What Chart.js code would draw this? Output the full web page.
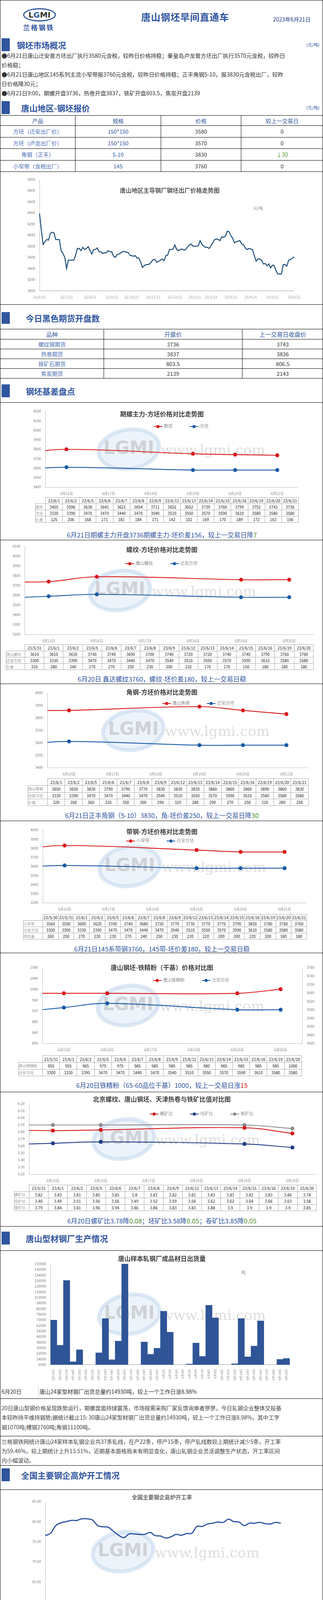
<!DOCTYPE html>
<html><head><meta charset="utf-8">
<script src="https://cdn.jsdelivr.net/npm/chart.js@4.4.0/dist/chart.umd.min.js"></script>
<style>
body{margin:0;background:#fff;font-family:"Noto Sans CJK SC","Noto Sans",sans-serif;}
#page{position:relative;width:824px;height:5068px;border:1px solid #000;overflow:hidden;}
table.dt{border-collapse:collapse;font-size:10px;color:#222;table-layout:fixed;}
table.dt td{border:1px solid #a6a6a6;text-align:center;padding:0;white-space:nowrap;overflow:hidden;}
table.dt td.lab{color:#999;text-align:left;font-size:9.5px;}
table.qt{border-collapse:collapse;font-size:14px;table-layout:fixed;}
table.qt td{border:1px solid #000;text-align:center;padding:0;}
.lg{display:inline-block;margin:0 22px;font-size:11px;color:#888;white-space:nowrap}
.lg i{display:inline-block;width:22px;height:2px;vertical-align:middle;margin-right:4px;position:relative}
.lg i b{position:absolute;left:7px;top:-3px;width:8px;height:8px;border-radius:50%}
</style></head>
<body><div id="page"></div>
<script>
// ---- data ----
var quoteRows = [['方坯（迁安出厂价）','150*150','3580','0'],['方坯（卢龙出厂价）','150*150','3570','0'],['角钢（正丰）','5-10','3830','↓30'],['小窄带（含税出厂）','145','3760','0']];
var futRows = [['螺纹钢期货','3736','3743'],['热卷期货','3837','3836'],['铁矿石期货','803.5','806.5'],['焦炭期货','2139','2143']];

var trendValues = [4390,4100,3830,3880,3920,3910,4030,4050,4040,3920,3920,3920,3720,3670,3600,3400,3550,3550,3550,3550,3640,3760,3760,3720,3780,3740,3760,3790,3720,3660,3740,3740,3770,3700,3700,3670,3680,3680,3720,3700,3700,3620,3600,3650,3660,3680,3700,3710,3690,3690,3640,3630,3620,3630,3590,3590,3520,3420,3450,3470,3470,3480,3520,3560,3560,3510,3530,3550,3570,3540,3630,3640,3740,3740,3750,3820,3740,3720,3740,3750,3730,3740,3790,3820,3840,3800,3800,3800,3810,3900,3830,3800,3780,3780,3760,3810,3860,3920,3930,3920,3900,3970,3960,3980,4070,4060,3990,3940,3860,3880,3890,3900,3840,3830,3770,3740,3760,3750,3740,3630,3530,3570,3570,3550,3480,3490,3450,3480,3410,3460,3450,3360,3300,3300,3300,3470,3470,3440,3550,3560,3580,3610];
var trendTicks = {0:'22/6/21',15:'22/7/21',28:'22/8/21',40:'22/9/21',51:'22/10/21',63:'22/11/21',75:'22/12/21',86:'23/1/21',95:'23/2/21',106:'23/3/21',117:'23/4/21',129:'23/5/21',141:'23/6/21'};

var datesA = ['23/6/1','23/6/2','23/6/5','23/6/6','23/6/7','23/6/8','23/6/9','23/6/12','23/6/13','23/6/14','23/6/15','23/6/16','23/6/19','23/6/20','23/6/21'];
var datesB = ['23/5/31','23/6/1','23/6/2','23/6/5','23/6/6','23/6/7','23/6/8','23/6/9','23/6/12','23/6/13','23/6/14','23/6/15','23/6/16','23/6/19','23/6/20'];
var datesC = ['23/5/30','23/5/31','23/6/1','23/6/2','23/6/5','23/6/6','23/6/7','23/6/8','23/6/9','23/6/12','23/6/13','23/6/14','23/6/15','23/6/16','23/6/19','23/6/20','23/6/21'];
var axis1621 = ['6月16日','6月17日','6月18日','6月19日','6月20日','6月21日'];
var axis1520 = ['6月15日','6月16日','6月17日','6月18日','6月19日','6月20日'];
var pos1621 = [-1,0,3,4,5];   // 6/15,6/16,6/19,6/20,6/21
var pos1520 = [-1,0,1,4,5];   // 6/14,6/15,6/16,6/19,6/20

var qhFut = [3455,3596,3638,3641,3621,3654,3711,3652,3652,3739,3760,3799,3752,3743,3736];
var qhBil = [3330,3390,3470,3470,3440,3470,3540,3510,3550,3570,3590,3610,3580,3580,3580];
var qhDiff = [125,206,168,171,181,184,171,142,102,169,170,189,172,163,156];

var lwRebar = [3610,3610,3630,3740,3740,3690,3700,3740,3720,3720,3740,3740,3790,3760,3760];
var lwBil = [3300,3330,3390,3470,3470,3440,3470,3540,3510,3550,3570,3590,3610,3580,3580];
var lwDiff = [310,280,240,270,270,250,230,200,210,170,170,150,180,180,180];

var jgAngle = [3650,3650,3830,3790,3790,3770,3830,3830,3830,3860,3860,3860,3890,3860,3830];
var jgBil = [3330,3390,3470,3470,3440,3470,3540,3510,3550,3570,3590,3610,3580,3580,3580];
var jgDiff = [320,260,360,320,350,300,290,320,280,290,270,250,310,280,250];

var dgStrip = [3560,3550,3600,3620,3700,3740,3680,3720,3770,3730,3770,3770,3790,3830,3780,3760,3760];
var dgBil = [3300,3300,3330,3390,3470,3470,3440,3470,3540,3510,3550,3570,3590,3610,3580,3580,3580];
var dgDiff = [260,250,270,230,230,270,240,250,230,220,220,200,200,220,200,180,180];

var tjfOre = [955,955,965,975,975,985,985,985,985,980,985,985,985,985,1000];
var tjfBil = [3300,3330,3390,3470,3470,3440,3470,3540,3510,3550,3570,3590,3610,3580,3580];

var rRebar = [3.82,3.83,3.81,3.85,3.85,3.80,3.81,3.82,3.81,3.83,3.83,3.82,3.83,3.86,3.78];
var rBil = [3.46,3.49,3.51,3.56,3.56,3.49,3.52,3.59,3.56,3.62,3.62,3.64,3.66,3.63,3.58];
var rCoil = [3.79,3.84,3.81,3.96,3.94,3.86,3.86,3.83,3.83,3.88,3.90,3.90,3.90,3.90,3.85];

var shipDays = ['5月15日','5月16日','5月17日','5月18日','5月19日','5月20日','5月21日','5月22日','5月23日','5月24日','5月25日','5月26日','5月27日','5月28日','5月29日','5月30日','5月31日','6月1日','6月2日','6月3日','6月4日','6月5日','6月6日','6月7日','6月8日','6月9日','6月10日','6月11日','6月12日','6月13日','6月14日','6月15日','6月16日','6月17日','6月18日','6月19日','6月20日'];
var shipValues = [69800,33800,126400,10200,27400,null,null,23100,72000,13200,39800,150000,null,null,38500,20900,29600,82500,52400,null,null,7000,37000,17900,90900,73000,null,null,7500,72000,17400,32600,68600,null,null,13700,14930];

var rateValues = [76.5,77.1,79.0,79.7,80.0,80.3,80.3,80.7,80.7,80.4,79.0,78.7,78.6,77.6,76.6,76.0,76.9,76.9,76.8,76.8,77.3,76.5,76.4,75.9,76.2,76.8,76.6,77.0,77.1,78.8,78.8,79.4,79.6,79.9,79.8,80.6,80.0,79.9,79.0,79.6,79.6,79.8,79.5,79.4,79.8,79.6];
var rateTicks = {0:'2022/08/16',5:'2022/09/16',10:'2022/10/16',15:'2022/11/16',19:'2022/12/16',23:'2023/01/16',28:'2023/02/16',32:'2023/03/16',37:'2023/04/16',41:'2023/05/16',45:'2023/06/16'};

var pieLabels = ['型钢日需求','145带钢日需求','螺纹日需求'];
var pieValues = [4.77,0.4,0];

var costTickLabels = ['1月25日','2月1日','2月8日','2月15日','2月22日','3月1日','3月8日','3月15日','3月22日','3月29日','4月5日','4月12日','4月19日','4月26日','5月3日','5月10日','5月17日','5月24日','5月31日','6月7日','6月14日','6月21日'];
var billetDay = [0,4,6,7,9,12,14,16,19,21,23,26,27,29,31,34,35,37,39,42,44,46,48,50,52,55,57,59,62,65,67,70,72,75,78,80,83,85,88,89,91,93,96,100,104,106,107,110,113,115,118,119,123,126,128,131,133,134,135,138,140,142,145,147];
var billetPrice = [3869,3893,3903,3813,3813,3769,3769,3793,3753,3803,3873,3873,3933,3953,3913,3903,3933,3992,3942,4022,4032,4042,4072,3992,3972,3913,3853,3863,3863,3903,3853,3803,3803,3753,3733,3743,3753,3723,3623,3533,3563,3493,3483,3473,3487,3463,3403,3443,3463,3403,3363,3303,3303,3303,3383,3463,3473,3443,3543,3513,3563,3613,3583,3583];
var costDay = [0,14,21,28,49,56,63,77,84,91,105,112,119,126,133,140,146,147];
var costPrice = [3833,3849,3883,3907,3982,3958,3929,3873,3819,3769,3543,3527,3447,3413,3384,3376,3374,3443];

// ---- layout helpers ----
var page = document.getElementById('page');
var BLUE = '#2F55A0', RED = '#D7191C', LBLUE = '#1A5BA6';
function put(tag, css, html){ var e=document.createElement(tag); e.style.cssText='position:absolute;'+css; if(html!=null) e.innerHTML=html; page.appendChild(e); return e; }
function hline(y){ put('div','left:0;top:'+y+'px;width:826px;height:0;border-top:1px solid #000'); }
function section(y, h, title, titleX, unit){
  put('div','left:3px;top:'+y+'px;width:21px;height:'+h+'px;background:'+BLUE);
  put('div','left:'+titleX+'px;top:'+(y+h/2-16)+'px;font-size:21px;font-weight:bold;color:'+BLUE+';line-height:32px;white-space:nowrap',title);
  if(unit) put('div','right:8px;top:'+(y+h/2-9)+'px;font-size:11px;color:'+BLUE,unit);
}
function textLines(x, y0, lh, lines, size, color){
  lines.forEach(function(t,i){ put('div','left:'+x+'px;top:'+(y0+i*lh-lh/2)+'px;line-height:'+lh+'px;font-size:'+size+'px;color:'+(color||'#333')+';white-space:nowrap',t); });
}
function canvasAt(x,y,w,h){ var c=put('canvas','left:'+x+'px;top:'+y+'px;width:'+w+'px;height:'+h+'px'); c.width=w; c.height=h; return c; }
function dataTable(x,y,labW,cellW,h,dates,rows){
  var html='<tr><td style="border:none;border-bottom:1px solid #a6a6a6;border-right:1px solid #a6a6a6"></td>'+dates.map(function(d){return '<td>'+d+'</td>';}).join('')+'</tr>';
  rows.forEach(function(r){ html+='<tr><td class="lab">'+r[0]+'</td>'+r[1].map(function(v){return '<td>'+v+'</td>';}).join('')+'</tr>'; });
  var t=put('table','left:'+x+'px;top:'+y+'px;width:'+(labW+cellW*dates.length)+'px;height:'+h+'px','<colgroup><col style="width:'+labW+'px">'+dates.map(function(){return '<col style="width:'+cellW+'px">';}).join('')+'</colgroup>'+html);
  t.className='dt';
}
function title(y, txt, size, color){ put('div','left:0;width:826px;top:'+(y-size*0.7)+'px;text-align:center;font-size:'+size+'px;font-weight:bold;color:'+(color||'#404040')+';white-space:nowrap',txt); }
// legend drawn from the datasets' labels and colours
function legend(x, y, ds){
  put('div','left:'+x+'px;top:'+(y-8)+'px;white-space:nowrap',ds.map(function(d){return '<span class="lg"><i style="background:'+d.borderColor+'"><b style="background:'+d.borderColor+'"></b></i>'+d.label+'</span>';}).join(''));
}

var watermark = { id:'wm', beforeDatasetsDraw:function(chart){
  var a=chart.chartArea, ctx=chart.ctx, cx=a.left+(a.right-a.left)*0.33, cy=(a.top+a.bottom)/2;
  ctx.save();
  ctx.strokeStyle='rgba(190,212,236,0.5)'; ctx.lineWidth=10;
  ctx.fillStyle='rgba(214,228,243,0.45)';
  ctx.beginPath(); ctx.ellipse(cx,cy,78,50,-0.15,0,Math.PI*2); ctx.fill(); ctx.stroke();
  ctx.fillStyle='rgba(170,170,170,0.45)'; ctx.font='bold 46px "DejaVu Sans"'; ctx.textAlign='center'; ctx.textBaseline='middle';
  ctx.fillText('LGMI',cx,cy);
  ctx.font='36px "DejaVu Serif"'; ctx.fillStyle='rgba(180,180,180,0.45)';
  ctx.fillText('www.lgmi.com',cx+215,cy+5);
  ctx.restore(); } };

var tickFont = {size:9, family:'"Noto Sans CJK SC"'};
function yAxis(min,max,step,dec,pos){ return { position:pos||'left', min:min, max:max, ticks:{stepSize:step, color:'#777', font:tickFont, callback:function(v){return dec?v.toFixed(dec):v;}}, grid:{display:false}, border:{color:'#bbb'}, afterFit:function(s){s.width=45;} }; }
function pts(xs, vals){ return xs.map(function(x,i){return {x:x,y:vals[vals.length-xs.length+i]};}); }
function lineDs(label,data,color,yId){ return {label:label,data:data,borderColor:color,backgroundColor:color,borderWidth:2.2,pointRadius:4,tension:0.4,yAxisID:yId||'y'}; }

function compare(cfg){
  var c=canvasAt(cfg.L-45, cfg.T-10, cfg.R-cfg.L+45+(cfg.y1?47:10), cfg.B-cfg.T+10+24);
  var scales={ x:{type:'linear',min:-0.5,max:5.5,grid:{display:false},border:{color:'#bbb'},
      afterBuildTicks:function(s){s.ticks=[0,1,2,3,4,5].map(function(v){return {value:v};});},
      ticks:{color:'#888',font:tickFont,callback:function(v){return cfg.axis[v];}}, afterFit:function(s){s.height=24;} },
    y:yAxis(cfg.min,cfg.max,cfg.step,cfg.dec) };
  if(cfg.y1){ scales.y1=yAxis(cfg.y1[0],cfg.y1[1],cfg.y1[2],0,'right'); }
  new Chart(c,{type:'line',data:{datasets:cfg.ds},plugins:[watermark],
    options:{animation:false,responsive:false,layout:{padding:{top:10,right:cfg.y1?0:10}},scales:scales,
      plugins:{tooltip:{enabled:false},legend:{display:false}}}});
  title(cfg.titleY, cfg.title, 16);
  legend(cfg.legX, cfg.legY, cfg.ds);
  dataTable(cfg.tx, cfg.ty, cfg.L-cfg.tx, (cfg.R-cfg.L)/cfg.dates.length, cfg.th, cfg.dates, cfg.rows);
  put('div','left:0;width:826px;top:'+(cfg.capY-12)+'px;text-align:center;font-size:16.5px;color:'+BLUE+';white-space:nowrap',cfg.cap);
}

// ---- header ----
put('div','left:58px;top:20px;width:78px;height:28px;border:3px solid '+BLUE+';border-radius:50%;text-align:center;font:bold 20px/28px "DejaVu Sans";color:#333','L<span style="color:'+BLUE+'">G</span>MI');
put('div','left:58px;top:56px;font-size:17px;font-weight:bold;color:'+BLUE+';letter-spacing:3px','兰格钢铁');
put('div','left:360px;top:24px;font-size:24px;font-weight:bold;color:'+BLUE+';letter-spacing:1px','唐山钢坯早间直通车');
put('div','left:697px;top:38px;font-size:14px;color:#1f3c88','2023年6月21日');

section(97,33,'钢坯市场概况',42,'(元/吨)');
textLines(3,141,24,['●6月21日唐山迁安普方坯出厂执行3580元含税，较昨日价格持稳；秦皇岛卢龙普方坯出厂执行3570元含税，较昨日','价格稳；','●6月21日唐山地区145系列主流小窄带报3760元含税，较昨日价格持稳；正丰角钢5-10，报3830元含税出厂，较昨','日价格降30元；','●6月21日9:00，期螺开盘3736，热卷开盘3837，铁矿开盘803.5，焦炭开盘2139'],14.2,'#333');
section(258,33,'唐山地区-钢坯报价',53,'(元/吨)');
(function(){
  var html='<colgroup><col style="width:192px"><col style="width:219px"><col style="width:205px"><col style="width:210px"></colgroup><tr style="height:26px;color:'+BLUE+'"><td>产品</td><td>规格</td><td>价格</td><td>较上一交易日</td></tr>';
  quoteRows.forEach(function(r){ html+='<tr style="height:29.5px"><td style="color:#4a6fb5">'+r[0]+'</td><td style="color:'+BLUE+'">'+r[1]+'</td><td style="color:#333">'+r[2]+'</td><td style="color:'+(r[3]=='0'?'#333':'#5a9a3a')+'">'+r[3]+'</td></tr>'; });
  var t=put('table','left:-1px;top:294px;width:827px',html); t.className='qt';
})();
// main trend
(function(){
  var c=canvasAt(55,450,715,318);
  new Chart(c,{type:'line',data:{labels:trendValues.map(function(v,i){return trendTicks[i]||'';}),datasets:[{data:trendValues,borderColor:'#1F4E79',borderWidth:2.5,pointRadius:0,tension:0}]},
    options:{animation:false,responsive:false,layout:{padding:{top:7,right:12}},
      scales:{x:{grid:{display:false},border:{color:'#999'},ticks:{autoSkip:false,maxRotation:0,color:'#999',font:tickFont}},
        y:yAxis(3000,5000,200,0)},
      plugins:{legend:{display:false},tooltip:{enabled:false}}}});
  put('div','left:0;width:826px;top:475px;text-align:center;font-size:15px;font-weight:bold;color:#555;padding-left:20px','唐山地区主导钢厂钢坯出厂价格走势图');
  put('div','left:647px;top:524px;font-size:10px;color:#888','元/吨');
})();
hline(778);
section(798,30,'今日黑色期货开盘数',65,null);
(function(){
  var html='<colgroup><col style="width:265px"><col style="width:354px"><col style="width:207px"></colgroup><tr style="height:26px;color:'+BLUE+';font-size:15px"><td>品种</td><td>开盘价</td><td>上一交易日收盘价</td></tr>';
  futRows.forEach(function(r){ html+='<tr style="height:25px"><td style="color:#4a6fb5">'+r[0]+'</td><td style="color:#333">'+r[1]+'</td><td style="color:#333">'+r[2]+'</td></tr>'; });
  var t=put('table','left:-1px;top:841px;width:827px',html); t.className='qt';
})();
section(983,33,'钢坯基差盘点',65,null);
hline(1029);

compare({L:115,R:762,T:1052,B:1246,min:3400,max:4200,step:100,axis:axis1621,title:'期螺主力-方坯价格对比走势图',titleY:1057,legX:370,legY:1083,
  ds:[lineDs('期货',pts(pos1621,qhFut),RED),lineDs('方坯',pts(pos1621,qhBil),LBLUE)],
  tx:89,ty:1272,th:64,dates:datesA,rows:[['期货',qhFut],['方坯',qhBil],['价差',qhDiff]],capY:1368,
  cap:'6月21日期螺主力开盘3736期螺主力-坯价差156，较上一交易日降<span style="color:#4d8a2e">7</span>'});
hline(1381);
compare({L:62,R:800,T:1398,B:1623,min:3200,max:4100,step:100,axis:axis1520,title:'螺纹-方坯价格对比走势图',titleY:1404,legX:298,legY:1434,
  ds:[lineDs('唐山螺纹',pts(pos1520,lwRebar),RED),lineDs('迁安方坯',pts(pos1520,lwBil),LBLUE)],
  tx:14,ty:1649,th:62,dates:datesB,rows:[['唐山螺纹',lwRebar],['迁安方坯',lwBil],['价差',lwDiff]],capY:1737,
  cap:'6月20日 鑫达螺纹3760，螺纹-坯价差180，较上一交易日稳'});
hline(1749);
compare({L:120,R:787,T:1773,B:1964,min:3400,max:4000,step:100,axis:axis1621,title:'角钢-方坯价格对比走势图',titleY:1769,legX:392,legY:1792,
  ds:[lineDs('唐山角钢',pts(pos1621,jgAngle),RED),lineDs('迁安方坯',pts(pos1621,jgBil),LBLUE)],
  tx:70,ty:1992,th:70,dates:datesA,rows:[['唐山角钢',jgAngle],['迁安方坯',jgBil],['价差',jgDiff]],capY:2086,
  cap:'6月21日正丰角钢（5-10）3830，角-坯价差250，较上一交易日降<span style="color:#4d8a2e">30</span>'});
hline(2100);
compare({L:108,R:783,T:2124,B:2310,min:3200,max:4000,step:100,axis:axis1621,title:'带钢-方坯价格对比走势图',titleY:2126,legX:300,legY:2144,
  ds:[lineDs('小窄带',pts(pos1621,dgStrip),RED),lineDs('迁安方坯',pts(pos1621,dgBil),LBLUE)],
  tx:58,ty:2339,th:64,dates:datesC,rows:[['小窄带',dgStrip],['迁安方坯',dgBil],['带坯差',dgDiff]],capY:2428,
  cap:'6月21日145系带钢3760，145带-坯价差180，较上一交易日稳'});
hline(2438);
compare({L:107,R:770,T:2476,B:2670,min:800,max:1080,step:40,y1:[3420,3780,40],axis:axis1520,title:'唐山钢坯-铁精粉（干基）价格对比图',titleY:2474,legX:368,legY:2501,
  ds:[lineDs('唐山铁精粉',pts(pos1520,tjfOre),RED),lineDs('迁安方坯',pts(pos1520,tjfBil),LBLUE,'y1')],
  tx:46,ty:2701,th:53,dates:datesB,rows:[['唐山铁精粉',tjfOre],['迁安方坯',tjfBil]],capY:2777,
  cap:'6月20日铁精粉（65-60品位干基）1000，较上一交易日涨<span style="color:#e0201b">15</span>'});
hline(2794);
compare({L:73,R:808,T:2825,B:3005,min:3.2,max:4.2,step:0.1,dec:2,axis:axis1520,title:'北京螺纹、唐山钢坯、天津热卷与铁矿比值对比图',titleY:2811,legX:360,legY:2843,
  ds:[lineDs('螺矿比',pts(pos1520,rRebar),RED),lineDs('坯矿比',pts(pos1520,rBil),'#1F3C88'),lineDs('卷矿比',pts(pos1520,rCoil),'#8c8c8c')],
  tx:35,ty:3032,th:67,dates:datesB,rows:[['螺矿比',rRebar],['坯矿比',rBil],['卷矿比',rCoil]],capY:3124,
  cap:'6月20日螺矿比3.78降<span style="color:#4d8a2e">0.08</span>；坯矿比3.58降<span style="color:#4d8a2e">0.05</span>；卷矿比3.85降<span style="color:#4d8a2e">0.05</span>'});
hline(3138);
section(3152,33,'唐山型材钢厂生产情况',65,null);
hline(3200);
(function(){
  var c=canvasAt(78,3226,672,310);
  new Chart(c,{type:'bar',data:{labels:shipDays,datasets:[{data:shipValues,backgroundColor:'#2F5597',barPercentage:1,categoryPercentage:1}]},plugins:[watermark],
    options:{animation:false,responsive:false,layout:{padding:{top:8,right:10}},
      scales:{x:{grid:{display:false},border:{color:'#999'},ticks:{autoSkip:false,minRotation:90,maxRotation:90,color:'#777',font:{size:8}}},
        y:Object.assign(yAxis(6000,150000,8000,0),{afterFit:function(s){s.width=50;}})},
      plugins:{legend:{display:false},tooltip:{enabled:false}}}});
  title(3219,'唐山样本轧钢厂成品材日出货量',16);
  put('div','left:616px;top:3248px;font-size:11px;color:#888','吨');
})();
put('div','left:97px;top:3545px;height:34px;border-left:1px solid #ccc');
textLines(3,3561,24,['6月20日'],14,'#333');
textLines(100,3561,24,['唐山24家型材钢厂出货总量约14930吨，较上一个工作日涨8.98%'],14,'#333');
hline(3579);
textLines(3,3603,24.5,['20日唐山型钢价格呈现跌势运行，期螺盘面持绿震荡，市场按需采购厂家反馈询单者寥寥，今日轧钢企业整体交投基','本较昨持平维持弱势;据统计截止15: 30唐山24家型材钢厂出货总量约14930吨，较上一个工作日涨8.98%，其中工字','钢1070吨;槽钢2760吨;角钢11100吨。'],14,'#444');
hline(3675);
textLines(3,3689,24,['兰格钢铁网统计唐山24家样本轧钢企业共37条轧线，在产22条，停产15条，停产轧线数较上期统计减少5条，开工率','为59.46%，较上期统计上升13.51%，近期基本面格局未有明显变化，唐山轧钢企业灵活调整生产状态，开工率区间','内小幅波动。'],14,'#444');
hline(3750);
section(3758,33,'全国主要钢企高炉开工情况',53,null);
hline(3812);
(function(){
  var c=canvasAt(70,3833,670,290);
  new Chart(c,{type:'line',data:{labels:rateValues.map(function(v,i){return rateTicks[i]||'';}),datasets:[{data:rateValues,borderColor:'#2E55A0',borderWidth:3,pointRadius:0,tension:0.4}]},plugins:[watermark],
    options:{animation:false,responsive:false,layout:{padding:{top:10,right:12}},
      scales:{x:{grid:{display:false},border:{color:'#999'},ticks:{autoSkip:false,maxRotation:0,color:'#777',font:{size:8}}},
        y:yAxis(60,85,5,2)},
      plugins:{legend:{display:false},tooltip:{enabled:false}}}});
  put('div','left:0;width:826px;top:3821px;text-align:center;font-size:14px;font-weight:bold;color:#666','全国主要钢企高炉开工率');
})();
textLines(3,4148,24.3,['2023年6月15日兰格钢铁网发布(第379期)全国主要钢铁企业高炉开工率数据：','全国201家生产企业中有58家钢厂共计90座高炉停产，其中在检修有53家82座(上周为53家81座)，90座停产高炉总容','积为81190立方米，较上周增加1080立方米，按容积计算主要钢铁企业高炉开工率为79.63%，较上周下降0.1%。','影响日铁水量为22.83万吨，较上周增加0.35万吨。'],14,'#444');
textLines(3,4242,20,['<b>注：自7月21日开始，兰格钢铁网对原样本160家571座高炉样本进行更换，新样本为201家650座。</b>'],11.5,'#222');
hline(4268);
section(4277,34,'唐山钢坯日需求量',34,'(万吨)');
hline(4310);
(function(){
  var c=canvasAt(0,4360,826,280);
  var pieLbl={id:'pl',afterDatasetsDraw:function(ch){var ctx=ch.ctx;ch.getDatasetMeta(0).data.forEach(function(a,i){if(!pieValues[i])return;var p=a.tooltipPosition();ctx.save();ctx.font='11px "Noto Sans"';ctx.textAlign='center';ctx.textBaseline='middle';ctx.fillStyle=i==0?'#fff':'#000';ctx.fillText(pieValues[i],p.x+(i==0?0:-4),p.y+(i==0?30:-20));ctx.restore();});}};
  new Chart(c,{type:'pie',data:{labels:pieLabels,datasets:[{data:pieValues,backgroundColor:['#C00000','#A5A5A5','#2F5597'],borderWidth:1,borderColor:'#fff'}]},plugins:[pieLbl],
    options:{animation:false,responsive:false,layout:{padding:{top:8,bottom:8,right:140,left:10}},
      plugins:{tooltip:{enabled:false},legend:{position:'left',align:'center',labels:{boxWidth:7,boxHeight:7,padding:24,color:'#444',font:{size:12}}}}}});
  title(4330,'6月16日唐山钢坯预估需求量',17);
})();
hline(4662);
section(4666,29,'唐山钢坯成本',65,null);
hline(4695);
(function(){
  var ds=[{label:'迁安方坯',data:billetDay.map(function(d,i){return {x:d,y:billetPrice[i]};}),borderColor:'#C00000',borderWidth:2,pointRadius:0,tension:0.2},
      {label:'钢坯成本均价',data:costDay.map(function(d,i){return {x:d,y:costPrice[i]};}),borderColor:'#2F55A0',borderWidth:2,pointRadius:0,stepped:'after'}];
  var c=canvasAt(49,4720,723,295);
  new Chart(c,{type:'line',data:{datasets:ds},plugins:[watermark],
    options:{animation:false,responsive:false,layout:{padding:{top:6,right:10}},
      scales:{x:{type:'linear',min:0,max:147,grid:{display:false},border:{color:'#999'},
          afterBuildTicks:function(s){s.ticks=costTickLabels.map(function(l,i){return {value:i*7};});},
          ticks:{autoSkip:false,minRotation:90,maxRotation:90,color:'#888',font:{size:7},callback:function(v){return costTickLabels[v/7];}}},
        y:yAxis(3200,4196,150,0)},
      plugins:{tooltip:{enabled:false},legend:{display:false}}}});
  put('div','left:318px;top:4743px;white-space:nowrap;font-size:8px;color:#888',ds.map(function(d){return '<span style="display:inline-block;margin-right:55px"><i style="display:inline-block;width:26px;height:2px;vertical-align:middle;margin-right:3px;background:'+d.borderColor+'"></i>'+d.label+'</span>';}).join(''));
  title(4711,'钢坯出厂价与钢坯生产成本均价走势对比图',14);
})();
textLines(3,5036,24.5,['本周（6月21日）唐山地区样本长流程钢厂，钢坯含税累计成本（调研值，不含三费）均值为3439元，周环比涨141','元。'],14,'#444');
</script></body></html>
